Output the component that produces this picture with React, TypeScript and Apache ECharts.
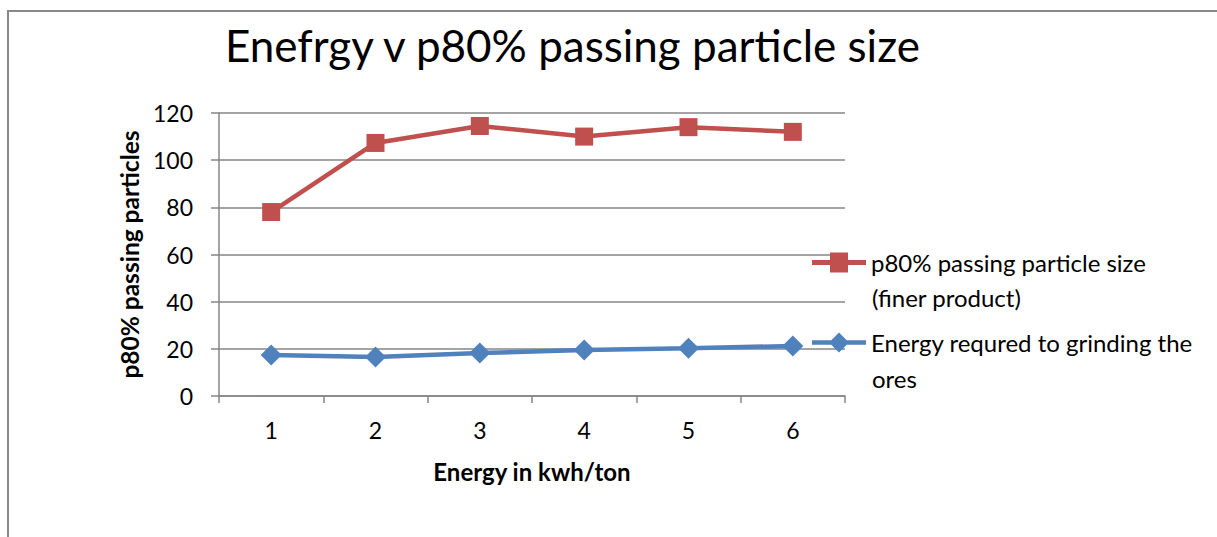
import React, { useEffect, useRef } from "react";
import * as echarts from "echarts";

const categories = ["1", "2", "3", "4", "5", "6"];
const p80Values = [78, 107.3, 114.5, 110, 114, 112];
const energyValues = [17.4, 16.5, 18.2, 19.5, 20.3, 21.2];
const seriesNames = ["p80% passing particle size", "Energy requred to grinding the"];
const legendSecondLines = ["(finer product)", "ores"];

const FONT = "Lato, 'Open Sans', sans-serif";

// legend icons: thick line + marker (54 x 20 box)
const RED_ICON = "path://M0,7.75 H54 V12.25 H0 Z M18,1 H36 V19 H18 Z";
const BLUE_ICON = "path://M0,7.75 H54 V12.25 H0 Z M27,0 L37,10 L27,20 L17,10 Z";

export default function App() {
  const ref = useRef<HTMLDivElement>(null);
  useEffect(() => {
    if (!ref.current) return;
    const chart = echarts.init(ref.current, undefined, { renderer: "svg" });
    chart.setOption({
      animation: false,
      backgroundColor: "#ffffff",
      textStyle: { fontFamily: FONT },
      title: {
        text: "Enefrgy v p80% passing particle size",
        left: 220,
        top: 18,
        textStyle: { fontFamily: FONT, fontSize: 44, fontWeight: "normal", color: "#000" },
      },
      grid: { left: 219, right: 372, top: 113, bottom: 141, containLabel: false },
      xAxis: {
        type: "category",
        data: categories,
        boundaryGap: true,
        axisLine: { show: true, lineStyle: { color: "#868686", width: 1.5 } },
        axisTick: { show: true, length: 7, lineStyle: { color: "#868686", width: 1.5 } },
        axisLabel: { color: "#000", fontSize: 23, margin: 22, fontFamily: FONT },
        name: "Energy in kwh/ton",
        nameLocation: "middle",
        nameGap: 63,
        nameTextStyle: { color: "#000", fontSize: 24, fontWeight: "bold", fontFamily: FONT },
      },
      yAxis: {
        type: "value",
        min: 0,
        max: 120,
        interval: 20,
        axisLine: { show: true, lineStyle: { color: "#868686", width: 1.5 } },
        axisTick: { show: true, length: 8, lineStyle: { color: "#868686", width: 1.5 } },
        splitLine: { show: true, lineStyle: { color: "#868686", width: 1.5 } },
        axisLabel: { color: "#000", fontSize: 23, margin: 26, fontFamily: FONT },
        name: "p80% passing particles",
        nameLocation: "middle",
        nameGap: 73,
        nameRotate: 90,
        nameTextStyle: { color: "#000", fontSize: 24.5, fontWeight: "bold", fontFamily: FONT },
      },
      legend: {
        orient: "vertical",
        left: 807,
        top: 241,
        itemWidth: 54,
        itemHeight: 20,
        itemGap: 47,
        symbolKeepAspect: false,
        textStyle: { color: "#000", fontSize: 24, lineHeight: 33, fontFamily: FONT },
        data: [
          { name: seriesNames[0], icon: RED_ICON },
          { name: seriesNames[1], icon: BLUE_ICON },
        ],
      },
      series: [
        {
          name: seriesNames[0],
          type: "line",
          data: p80Values,
          symbol: "rect",
          symbolSize: 18,
          itemStyle: { color: "#C0504D" },
          lineStyle: { color: "#C0504D", width: 4.5 },
        },
        {
          name: seriesNames[1],
          type: "line",
          data: energyValues,
          symbol: "diamond",
          symbolSize: 21,
          itemStyle: { color: "#4F81BD" },
          lineStyle: { color: "#4F81BD", width: 4.5 },
        },
      ],
      graphic: [
        {
          type: "rect",
          shape: { x: 8, y: 11, width: 1300, height: 700 },
          style: { fill: "none", stroke: "#898989", lineWidth: 2 },
          silent: true,
          z: -1,
        },
        {
          type: "text",
          x: 872,
          y: 297,
          style: { text: legendSecondLines[0], fontSize: 24, fontFamily: FONT, fill: "#000", verticalAlign: "middle" },
        },
        {
          type: "text",
          x: 872,
          y: 378,
          style: { text: legendSecondLines[1], fontSize: 24, fontFamily: FONT, fill: "#000", verticalAlign: "middle" },
        },
      ],
    });
    return () => chart.dispose();
  }, []);
  return (
    <div
      ref={ref}
      style={{ position: "fixed", left: 0, top: 0, width: 1217, height: 537 }}
    />
  );
}
